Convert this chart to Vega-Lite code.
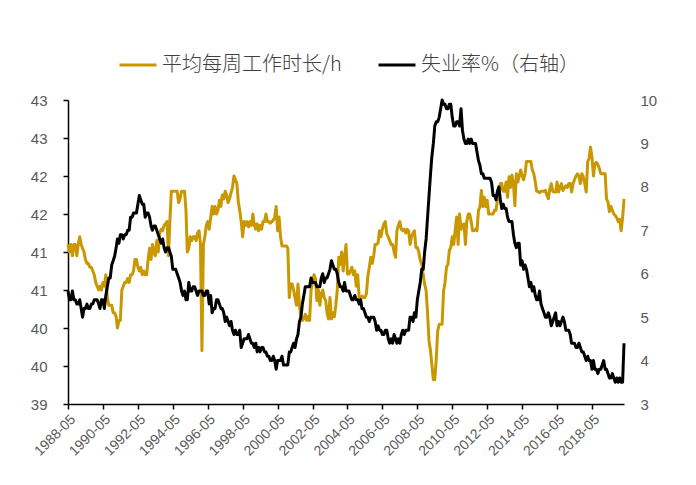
{
"$schema": "https://vega.github.io/schema/vega-lite/v6.json",
"width": 556, "height": 304,
"autosize": {"type": "none"},
"padding": {"left": 68, "top": 100, "right": 72, "bottom": 81},
"background": "white",
"config": {
 "view": {"stroke": null},
 "axis": {"labelFont": "Liberation Sans", "labelFontSize": 15, "labelColor": "#595959", "grid": false, "domainColor": "#000000", "tickColor": "#000000", "domainWidth": 1.5, "tickWidth": 1.5, "title": null}
},
"data": {"values": [
{"month":"1988-05","hours":41.1,"rate":5.6},{"month":"1988-06","hours":41.0,"rate":5.4},{"month":"1988-07","hours":41.1,"rate":5.4},{"month":"1988-08","hours":40.95,"rate":5.6},{"month":"1988-09","hours":41.1,"rate":5.4},{"month":"1988-10","hours":41.1,"rate":5.4},{"month":"1988-11","hours":40.95,"rate":5.3},{"month":"1988-12","hours":41.1,"rate":5.3},{"month":"1989-01","hours":41.2,"rate":5.4},{"month":"1989-02","hours":41.1,"rate":5.2},{"month":"1989-03","hours":41.05,"rate":5.0},{"month":"1989-04","hours":41.0,"rate":5.2},
{"month":"1989-05","hours":40.9,"rate":5.2},{"month":"1989-06","hours":40.85,"rate":5.3},{"month":"1989-07","hours":40.85,"rate":5.2},{"month":"1989-08","hours":40.8,"rate":5.2},{"month":"1989-09","hours":40.8,"rate":5.3},{"month":"1989-10","hours":40.75,"rate":5.3},{"month":"1989-11","hours":40.7,"rate":5.4},{"month":"1989-12","hours":40.6,"rate":5.4},{"month":"1990-01","hours":40.55,"rate":5.4},{"month":"1990-02","hours":40.5,"rate":5.3},{"month":"1990-03","hours":40.55,"rate":5.2},{"month":"1990-04","hours":40.5,"rate":5.4},
{"month":"1990-05","hours":40.6,"rate":5.4},{"month":"1990-06","hours":40.55,"rate":5.2},{"month":"1990-07","hours":40.7,"rate":5.5},{"month":"1990-08","hours":40.4,"rate":5.7},{"month":"1990-09","hours":40.3,"rate":5.9},{"month":"1990-10","hours":40.3,"rate":5.9},{"month":"1990-11","hours":40.3,"rate":6.2},{"month":"1990-12","hours":40.2,"rate":6.3},{"month":"1991-01","hours":40.2,"rate":6.4},{"month":"1991-02","hours":40.15,"rate":6.6},{"month":"1991-03","hours":40.0,"rate":6.8},{"month":"1991-04","hours":40.1,"rate":6.7},
{"month":"1991-05","hours":40.1,"rate":6.9},{"month":"1991-06","hours":40.5,"rate":6.9},{"month":"1991-07","hours":40.55,"rate":6.8},{"month":"1991-08","hours":40.6,"rate":6.9},{"month":"1991-09","hours":40.6,"rate":6.9},{"month":"1991-10","hours":40.65,"rate":7.0},{"month":"1991-11","hours":40.6,"rate":7.0},{"month":"1991-12","hours":40.7,"rate":7.3},{"month":"1992-01","hours":40.7,"rate":7.3},{"month":"1992-02","hours":40.75,"rate":7.4},{"month":"1992-03","hours":40.9,"rate":7.4},{"month":"1992-04","hours":40.9,"rate":7.4},
{"month":"1992-05","hours":40.8,"rate":7.6},{"month":"1992-06","hours":40.75,"rate":7.8},{"month":"1992-07","hours":40.8,"rate":7.7},{"month":"1992-08","hours":40.7,"rate":7.6},{"month":"1992-09","hours":40.75,"rate":7.6},{"month":"1992-10","hours":40.7,"rate":7.3},{"month":"1992-11","hours":40.7,"rate":7.4},{"month":"1992-12","hours":40.9,"rate":7.4},{"month":"1993-01","hours":41.05,"rate":7.3},{"month":"1993-02","hours":40.9,"rate":7.1},{"month":"1993-03","hours":41.1,"rate":7.0},{"month":"1993-04","hours":41.0,"rate":7.1},
{"month":"1993-05","hours":40.95,"rate":7.1},{"month":"1993-06","hours":41.15,"rate":7.0},{"month":"1993-07","hours":41.0,"rate":6.9},{"month":"1993-08","hours":41.25,"rate":6.8},{"month":"1993-09","hours":41.3,"rate":6.7},{"month":"1993-10","hours":41.28,"rate":6.8},{"month":"1993-11","hours":41.35,"rate":6.6},{"month":"1993-12","hours":41.37,"rate":6.5},{"month":"1994-01","hours":41.4,"rate":6.6},{"month":"1994-02","hours":40.95,"rate":6.6},{"month":"1994-03","hours":41.4,"rate":6.5},{"month":"1994-04","hours":41.8,"rate":6.4},
{"month":"1994-05","hours":41.8,"rate":6.1},{"month":"1994-06","hours":41.8,"rate":6.1},{"month":"1994-07","hours":41.8,"rate":6.1},{"month":"1994-08","hours":41.8,"rate":6.0},{"month":"1994-09","hours":41.65,"rate":5.9},{"month":"1994-10","hours":41.7,"rate":5.8},{"month":"1994-11","hours":41.8,"rate":5.6},{"month":"1994-12","hours":41.8,"rate":5.5},{"month":"1995-01","hours":41.8,"rate":5.6},{"month":"1995-02","hours":41.55,"rate":5.4},{"month":"1995-03","hours":41.0,"rate":5.4},{"month":"1995-04","hours":41.05,"rate":5.8},
{"month":"1995-05","hours":41.2,"rate":5.6},{"month":"1995-06","hours":41.15,"rate":5.6},{"month":"1995-07","hours":41.2,"rate":5.7},{"month":"1995-08","hours":41.2,"rate":5.7},{"month":"1995-09","hours":41.15,"rate":5.6},{"month":"1995-10","hours":41.25,"rate":5.5},{"month":"1995-11","hours":41.28,"rate":5.6},{"month":"1995-12","hours":41.1,"rate":5.6},{"month":"1996-01","hours":39.7,"rate":5.6},{"month":"1996-02","hours":41.1,"rate":5.5},{"month":"1996-03","hours":41.2,"rate":5.5},{"month":"1996-04","hours":41.35,"rate":5.6},
{"month":"1996-05","hours":41.4,"rate":5.6},{"month":"1996-06","hours":41.3,"rate":5.3},{"month":"1996-07","hours":41.45,"rate":5.5},{"month":"1996-08","hours":41.6,"rate":5.1},{"month":"1996-09","hours":41.5,"rate":5.2},{"month":"1996-10","hours":41.6,"rate":5.2},{"month":"1996-11","hours":41.5,"rate":5.4},{"month":"1996-12","hours":41.55,"rate":5.4},{"month":"1997-01","hours":41.68,"rate":5.3},{"month":"1997-02","hours":41.6,"rate":5.2},{"month":"1997-03","hours":41.75,"rate":5.2},{"month":"1997-04","hours":41.7,"rate":5.1},
{"month":"1997-05","hours":41.8,"rate":4.9},{"month":"1997-06","hours":41.75,"rate":5.0},{"month":"1997-07","hours":41.65,"rate":4.9},{"month":"1997-08","hours":41.7,"rate":4.8},{"month":"1997-09","hours":41.78,"rate":4.9},{"month":"1997-10","hours":41.85,"rate":4.7},{"month":"1997-11","hours":42.0,"rate":4.6},{"month":"1997-12","hours":41.95,"rate":4.7},{"month":"1998-01","hours":41.9,"rate":4.6},{"month":"1998-02","hours":41.65,"rate":4.6},{"month":"1998-03","hours":41.55,"rate":4.7},{"month":"1998-04","hours":41.4,"rate":4.3},
{"month":"1998-05","hours":41.2,"rate":4.4},{"month":"1998-06","hours":41.4,"rate":4.5},{"month":"1998-07","hours":41.35,"rate":4.5},{"month":"1998-08","hours":41.4,"rate":4.5},{"month":"1998-09","hours":41.33,"rate":4.6},{"month":"1998-10","hours":41.4,"rate":4.5},{"month":"1998-11","hours":41.35,"rate":4.4},{"month":"1998-12","hours":41.5,"rate":4.4},{"month":"1999-01","hours":41.35,"rate":4.3},{"month":"1999-02","hours":41.3,"rate":4.4},{"month":"1999-03","hours":41.37,"rate":4.2},{"month":"1999-04","hours":41.28,"rate":4.3},
{"month":"1999-05","hours":41.35,"rate":4.2},{"month":"1999-06","hours":41.3,"rate":4.3},{"month":"1999-07","hours":41.4,"rate":4.3},{"month":"1999-08","hours":41.4,"rate":4.2},{"month":"1999-09","hours":41.5,"rate":4.2},{"month":"1999-10","hours":41.4,"rate":4.1},{"month":"1999-11","hours":41.4,"rate":4.1},{"month":"1999-12","hours":41.38,"rate":4.0},{"month":"2000-01","hours":41.4,"rate":4.0},{"month":"2000-02","hours":41.42,"rate":4.1},{"month":"2000-03","hours":41.45,"rate":4.0},{"month":"2000-04","hours":41.6,"rate":3.8},
{"month":"2000-05","hours":41.28,"rate":4.0},{"month":"2000-06","hours":41.46,"rate":4.0},{"month":"2000-07","hours":41.2,"rate":4.0},{"month":"2000-08","hours":41.08,"rate":4.1},{"month":"2000-09","hours":41.08,"rate":3.9},{"month":"2000-10","hours":41.08,"rate":3.9},{"month":"2000-11","hours":41.08,"rate":3.9},{"month":"2000-12","hours":41.05,"rate":3.9},{"month":"2001-01","hours":40.4,"rate":4.2},{"month":"2001-02","hours":40.58,"rate":4.2},{"month":"2001-03","hours":40.58,"rate":4.3},{"month":"2001-04","hours":40.5,"rate":4.4},
{"month":"2001-05","hours":40.4,"rate":4.3},{"month":"2001-06","hours":40.3,"rate":4.5},{"month":"2001-07","hours":40.58,"rate":4.6},{"month":"2001-08","hours":40.3,"rate":4.9},{"month":"2001-09","hours":40.14,"rate":5.0},{"month":"2001-10","hours":40.1,"rate":5.3},{"month":"2001-11","hours":40.12,"rate":5.5},{"month":"2001-12","hours":40.18,"rate":5.7},{"month":"2002-01","hours":40.1,"rate":5.7},{"month":"2002-02","hours":40.15,"rate":5.7},{"month":"2002-03","hours":40.1,"rate":5.7},{"month":"2002-04","hours":40.5,"rate":5.9},
{"month":"2002-05","hours":40.6,"rate":5.8},{"month":"2002-06","hours":40.7,"rate":5.8},{"month":"2002-07","hours":40.65,"rate":5.8},{"month":"2002-08","hours":40.36,"rate":5.7},{"month":"2002-09","hours":40.5,"rate":5.7},{"month":"2002-10","hours":40.3,"rate":5.7},{"month":"2002-11","hours":40.45,"rate":5.9},{"month":"2002-12","hours":40.5,"rate":6.0},{"month":"2003-01","hours":40.4,"rate":5.8},{"month":"2003-02","hours":40.36,"rate":5.9},{"month":"2003-03","hours":40.2,"rate":5.9},{"month":"2003-04","hours":40.12,"rate":6.0},
{"month":"2003-05","hours":40.4,"rate":6.1},{"month":"2003-06","hours":40.12,"rate":6.3},{"month":"2003-07","hours":40.2,"rate":6.2},{"month":"2003-08","hours":40.15,"rate":6.1},{"month":"2003-09","hours":40.3,"rate":6.1},{"month":"2003-10","hours":40.5,"rate":6.0},{"month":"2003-11","hours":40.93,"rate":5.8},{"month":"2003-12","hours":40.84,"rate":5.7},{"month":"2004-01","hours":41.0,"rate":5.7},{"month":"2004-02","hours":40.75,"rate":5.6},{"month":"2004-03","hours":40.93,"rate":5.8},{"month":"2004-04","hours":41.1,"rate":5.6},
{"month":"2004-05","hours":40.71,"rate":5.6},{"month":"2004-06","hours":40.71,"rate":5.6},{"month":"2004-07","hours":40.75,"rate":5.5},{"month":"2004-08","hours":40.8,"rate":5.4},{"month":"2004-09","hours":40.7,"rate":5.4},{"month":"2004-10","hours":40.75,"rate":5.5},{"month":"2004-11","hours":40.55,"rate":5.4},{"month":"2004-12","hours":40.7,"rate":5.4},{"month":"2005-01","hours":40.4,"rate":5.3},{"month":"2005-02","hours":40.4,"rate":5.4},{"month":"2005-03","hours":40.42,"rate":5.2},{"month":"2005-04","hours":40.4,"rate":5.2},
{"month":"2005-05","hours":40.4,"rate":5.1},{"month":"2005-06","hours":40.45,"rate":5.0},{"month":"2005-07","hours":40.68,"rate":5.0},{"month":"2005-08","hours":40.8,"rate":4.9},{"month":"2005-09","hours":40.93,"rate":5.0},{"month":"2005-10","hours":40.85,"rate":5.0},{"month":"2005-11","hours":40.95,"rate":5.0},{"month":"2005-12","hours":41.1,"rate":4.9},{"month":"2006-01","hours":41.1,"rate":4.7},{"month":"2006-02","hours":41.12,"rate":4.8},{"month":"2006-03","hours":41.28,"rate":4.7},{"month":"2006-04","hours":41.2,"rate":4.7},
{"month":"2006-05","hours":41.3,"rate":4.6},{"month":"2006-06","hours":41.37,"rate":4.6},{"month":"2006-07","hours":41.4,"rate":4.7},{"month":"2006-08","hours":41.24,"rate":4.7},{"month":"2006-09","hours":41.2,"rate":4.5},{"month":"2006-10","hours":41.15,"rate":4.4},{"month":"2006-11","hours":41.1,"rate":4.5},{"month":"2006-12","hours":41.1,"rate":4.4},{"month":"2007-01","hours":41.0,"rate":4.6},{"month":"2007-02","hours":40.93,"rate":4.5},{"month":"2007-03","hours":41.28,"rate":4.4},{"month":"2007-04","hours":41.35,"rate":4.5},
{"month":"2007-05","hours":41.4,"rate":4.4},{"month":"2007-06","hours":41.3,"rate":4.6},{"month":"2007-07","hours":41.28,"rate":4.7},{"month":"2007-08","hours":41.3,"rate":4.6},{"month":"2007-09","hours":41.25,"rate":4.7},{"month":"2007-10","hours":41.3,"rate":4.7},{"month":"2007-11","hours":41.28,"rate":4.7},{"month":"2007-12","hours":41.1,"rate":5.0},{"month":"2008-01","hours":41.2,"rate":5.0},{"month":"2008-02","hours":41.25,"rate":4.9},{"month":"2008-03","hours":41.28,"rate":5.1},{"month":"2008-04","hours":41.06,"rate":5.0},
{"month":"2008-05","hours":41.06,"rate":5.4},{"month":"2008-06","hours":41.0,"rate":5.6},{"month":"2008-07","hours":40.89,"rate":5.8},{"month":"2008-08","hours":40.84,"rate":6.1},{"month":"2008-09","hours":40.7,"rate":6.1},{"month":"2008-10","hours":40.58,"rate":6.5},{"month":"2008-11","hours":40.49,"rate":6.8},{"month":"2008-12","hours":40.2,"rate":7.3},{"month":"2009-01","hours":39.83,"rate":7.8},{"month":"2009-02","hours":39.7,"rate":8.3},{"month":"2009-03","hours":39.52,"rate":8.7},{"month":"2009-04","hours":39.32,"rate":9.0},
{"month":"2009-05","hours":39.32,"rate":9.4},{"month":"2009-06","hours":39.6,"rate":9.5},{"month":"2009-07","hours":39.96,"rate":9.5},{"month":"2009-08","hours":40.05,"rate":9.6},{"month":"2009-09","hours":40.05,"rate":9.8},{"month":"2009-10","hours":40.05,"rate":10.0},{"month":"2009-11","hours":40.49,"rate":9.9},{"month":"2009-12","hours":40.6,"rate":9.9},{"month":"2010-01","hours":40.8,"rate":9.8},{"month":"2010-02","hours":40.84,"rate":9.8},{"month":"2010-03","hours":41.02,"rate":9.9},{"month":"2010-04","hours":41.06,"rate":9.9},
{"month":"2010-05","hours":41.2,"rate":9.6},{"month":"2010-06","hours":41.1,"rate":9.4},{"month":"2010-07","hours":41.28,"rate":9.4},{"month":"2010-08","hours":41.46,"rate":9.5},{"month":"2010-09","hours":41.1,"rate":9.5},{"month":"2010-10","hours":41.5,"rate":9.4},{"month":"2010-11","hours":41.3,"rate":9.8},{"month":"2010-12","hours":41.35,"rate":9.3},{"month":"2011-01","hours":41.37,"rate":9.1},{"month":"2011-02","hours":41.1,"rate":9.0},{"month":"2011-03","hours":41.4,"rate":9.0},{"month":"2011-04","hours":41.5,"rate":9.1},
{"month":"2011-05","hours":41.5,"rate":9.0},{"month":"2011-06","hours":41.4,"rate":9.1},{"month":"2011-07","hours":41.28,"rate":9.0},{"month":"2011-08","hours":41.28,"rate":9.0},{"month":"2011-09","hours":41.3,"rate":9.0},{"month":"2011-10","hours":41.28,"rate":8.8},{"month":"2011-11","hours":41.55,"rate":8.6},{"month":"2011-12","hours":41.59,"rate":8.5},{"month":"2012-01","hours":41.81,"rate":8.3},{"month":"2012-02","hours":41.6,"rate":8.3},{"month":"2012-03","hours":41.72,"rate":8.2},{"month":"2012-04","hours":41.6,"rate":8.2},
{"month":"2012-05","hours":41.68,"rate":8.2},{"month":"2012-06","hours":41.5,"rate":8.2},{"month":"2012-07","hours":41.5,"rate":8.2},{"month":"2012-08","hours":41.5,"rate":8.1},{"month":"2012-09","hours":41.5,"rate":7.8},{"month":"2012-10","hours":41.55,"rate":7.8},{"month":"2012-11","hours":41.55,"rate":7.7},{"month":"2012-12","hours":41.68,"rate":7.9},{"month":"2013-01","hours":41.72,"rate":8.0},{"month":"2013-02","hours":41.9,"rate":7.7},{"month":"2013-03","hours":41.9,"rate":7.5},{"month":"2013-04","hours":41.8,"rate":7.6},
{"month":"2013-05","hours":41.8,"rate":7.5},{"month":"2013-06","hours":41.92,"rate":7.5},{"month":"2013-07","hours":41.72,"rate":7.3},{"month":"2013-08","hours":41.99,"rate":7.2},{"month":"2013-09","hours":41.85,"rate":7.2},{"month":"2013-10","hours":42.01,"rate":7.2},{"month":"2013-11","hours":41.9,"rate":6.9},{"month":"2013-12","hours":41.61,"rate":6.7},{"month":"2014-01","hours":42.03,"rate":6.6},{"month":"2014-02","hours":41.92,"rate":6.7},{"month":"2014-03","hours":42.0,"rate":6.7},{"month":"2014-04","hours":42.08,"rate":6.2},
{"month":"2014-05","hours":42.0,"rate":6.3},{"month":"2014-06","hours":41.95,"rate":6.1},{"month":"2014-07","hours":42.03,"rate":6.2},{"month":"2014-08","hours":42.19,"rate":6.1},{"month":"2014-09","hours":42.19,"rate":5.9},{"month":"2014-10","hours":42.19,"rate":5.7},{"month":"2014-11","hours":42.19,"rate":5.8},{"month":"2014-12","hours":42.08,"rate":5.6},{"month":"2015-01","hours":42.03,"rate":5.7},{"month":"2015-02","hours":41.92,"rate":5.5},{"month":"2015-03","hours":41.8,"rate":5.4},{"month":"2015-04","hours":41.8,"rate":5.4},
{"month":"2015-05","hours":41.78,"rate":5.6},{"month":"2015-06","hours":41.8,"rate":5.3},{"month":"2015-07","hours":41.8,"rate":5.2},{"month":"2015-08","hours":41.8,"rate":5.1},{"month":"2015-09","hours":41.81,"rate":5.0},{"month":"2015-10","hours":41.75,"rate":5.0},{"month":"2015-11","hours":41.7,"rate":5.1},{"month":"2015-12","hours":41.83,"rate":5.0},{"month":"2016-01","hours":41.9,"rate":4.8},{"month":"2016-02","hours":41.8,"rate":4.9},{"month":"2016-03","hours":41.79,"rate":5.0},{"month":"2016-04","hours":41.79,"rate":5.1},
{"month":"2016-05","hours":41.92,"rate":4.8},{"month":"2016-06","hours":41.79,"rate":4.9},{"month":"2016-07","hours":41.85,"rate":4.8},{"month":"2016-08","hours":41.9,"rate":4.9},{"month":"2016-09","hours":41.81,"rate":5.0},{"month":"2016-10","hours":41.84,"rate":4.9},{"month":"2016-11","hours":41.87,"rate":4.7},{"month":"2016-12","hours":41.85,"rate":4.7},{"month":"2017-01","hours":41.9,"rate":4.7},{"month":"2017-02","hours":41.9,"rate":4.6},{"month":"2017-03","hours":41.79,"rate":4.4},{"month":"2017-04","hours":41.9,"rate":4.4},
{"month":"2017-05","hours":41.95,"rate":4.4},{"month":"2017-06","hours":42.0,"rate":4.3},{"month":"2017-07","hours":42.03,"rate":4.3},{"month":"2017-08","hours":42.0,"rate":4.4},{"month":"2017-09","hours":41.9,"rate":4.3},{"month":"2017-10","hours":42.03,"rate":4.2},{"month":"2017-11","hours":41.99,"rate":4.2},{"month":"2017-12","hours":41.9,"rate":4.1},{"month":"2018-01","hours":41.79,"rate":4.0},{"month":"2018-02","hours":42.19,"rate":4.1},{"month":"2018-03","hours":42.23,"rate":4.0},{"month":"2018-04","hours":42.38,"rate":4.0},
{"month":"2018-05","hours":42.25,"rate":3.8},{"month":"2018-06","hours":42.0,"rate":4.0},{"month":"2018-07","hours":42.16,"rate":3.8},{"month":"2018-08","hours":42.18,"rate":3.8},{"month":"2018-09","hours":42.15,"rate":3.7},{"month":"2018-10","hours":42.1,"rate":3.8},{"month":"2018-11","hours":42.03,"rate":3.8},{"month":"2018-12","hours":42.03,"rate":3.9},{"month":"2019-01","hours":42.03,"rate":4.0},{"month":"2019-02","hours":42.03,"rate":3.8},{"month":"2019-03","hours":41.7,"rate":3.8},{"month":"2019-04","hours":41.66,"rate":3.7},
{"month":"2019-05","hours":41.53,"rate":3.6},{"month":"2019-06","hours":41.6,"rate":3.6},{"month":"2019-07","hours":41.55,"rate":3.7},{"month":"2019-08","hours":41.5,"rate":3.6},{"month":"2019-09","hours":41.48,"rate":3.5},{"month":"2019-10","hours":41.45,"rate":3.6},{"month":"2019-11","hours":41.4,"rate":3.5},{"month":"2019-12","hours":41.43,"rate":3.6},{"month":"2020-01","hours":41.28,"rate":3.5},{"month":"2020-02","hours":41.45,"rate":3.5},{"month":"2020-03","hours":41.7,"rate":4.4}
]},
"encoding": {
 "x": {"field": "month", "type": "temporal",
  "scale": {"type": "utc", "domain": [{"year": 1988, "month": 5, "date": 1, "utc": true}, {"year": 2020, "month": 3, "date": 1, "utc": true}]},
  "axis": {"format": "%Y-%m", "labelAngle": -45, "tickSize": 5, "labelPadding": 3, "labelFontSize": 14, "labelOverlap": false, "labelBound": false, "labelFlush": false,
   "values": [{"year":1988,"month":5,"date":1,"utc":true},{"year":1990,"month":5,"date":1,"utc":true},{"year":1992,"month":5,"date":1,"utc":true},{"year":1994,"month":5,"date":1,"utc":true},{"year":1996,"month":5,"date":1,"utc":true},{"year":1998,"month":5,"date":1,"utc":true},{"year":2000,"month":5,"date":1,"utc":true},{"year":2002,"month":5,"date":1,"utc":true},{"year":2004,"month":5,"date":1,"utc":true},{"year":2006,"month":5,"date":1,"utc":true},{"year":2008,"month":5,"date":1,"utc":true},{"year":2010,"month":5,"date":1,"utc":true},{"year":2012,"month":5,"date":1,"utc":true},{"year":2014,"month":5,"date":1,"utc":true},{"year":2016,"month":5,"date":1,"utc":true},{"year":2018,"month":5,"date":1,"utc":true}]}}
},
"layer": [
 {"mark": {"type": "line", "strokeWidth": 3, "strokeJoin": "round"},
  "encoding": {
   "y": {"field": "hours", "type": "quantitative", "scale": {"domain": [39, 43], "zero": false},
    "axis": {"orient": "left", "values": [39, 39.5, 40, 40.5, 41, 41.5, 42, 42.5, 43], "format": ".0f", "tickSize": 5, "labelPadding": 16}},
   "color": {"datum": "平均每周工作时长/h", "type": "nominal",
    "scale": {"domain": ["平均每周工作时长/h", "失业率%（右轴）"], "range": ["#C99700", "#000000"]},
    "legend": {"orient": "none", "legendX": 50, "legendY": -55, "direction": "horizontal", "title": null,
     "symbolType": "stroke", "symbolSize": 1369, "symbolStrokeWidth": 3, "labelLimit": 400,
     "labelFont": "Noto Sans CJK SC", "labelFontSize": 20, "labelFontWeight": 300, "labelColor": "#404040", "labelOffset": 4, "columnPadding": 30}}
  }},
 {"mark": {"type": "line", "strokeWidth": 3, "strokeJoin": "round"},
  "encoding": {
   "y": {"field": "rate", "type": "quantitative", "scale": {"domain": [3, 10], "zero": false},
    "axis": {"orient": "right", "values": [3, 4, 5, 6, 7, 8, 9, 10], "domain": false, "ticks": false, "labelPadding": 16}},
   "color": {"datum": "失业率%（右轴）", "type": "nominal"}
  }}
],
"resolve": {"scale": {"y": "independent"}}
}
